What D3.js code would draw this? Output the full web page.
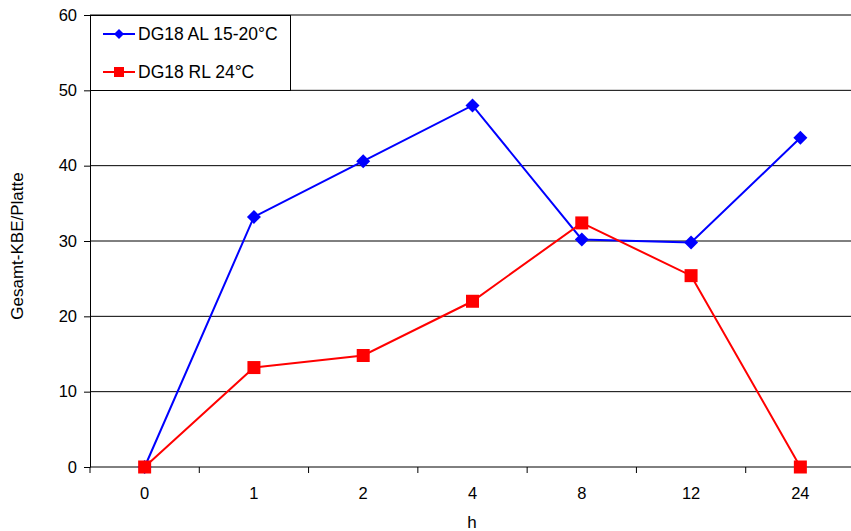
<!DOCTYPE html>
<html>
<head>
<meta charset="utf-8">
<script src="https://cdn.jsdelivr.net/npm/d3@7"></script>
<style>
  html, body { margin: 0; padding: 0; background: #fff; }
  svg { display: block; font-family: "Liberation Sans", Arial, sans-serif; }
</style>
</head>
<body>
<svg id="chart" width="851" height="531"></svg>
<script>
// Sampling times (h) and colony counts per plate
const hours = ["0", "1", "2", "4", "8", "12", "24"];
const seriesAL = [0, 33.2, 40.6, 48.0, 30.2, 29.8, 43.7];
const seriesRL = [0, 13.2, 14.8, 22.0, 32.4, 25.4, 0];
const yTicks = [0, 10, 20, 30, 40, 50, 60];
const seriesNames = ["DG18 AL 15-20°C", "DG18 RL 24°C"];

const svg = d3.select("#chart");
const plotLeft = 90, plotRight = 855, plotTop = 15, plotBottom = 467;

const x = d3.scaleBand().domain(hours).range([plotLeft, plotRight]).padding(0);
const y = d3.scaleLinear().domain([0, 60]).range([plotBottom, plotTop]);

// horizontal gridlines
svg.append("g").selectAll("line")
  .data(yTicks.filter(d => d > 0))
  .join("line")
  .attr("x1", plotLeft).attr("x2", 851)
  .attr("y1", d => y(d)).attr("y2", d => y(d))
  .attr("stroke", "#000").attr("stroke-width", 1);

// y axis
const yAxis = d3.axisLeft(y).tickValues(yTicks).tickSize(6).tickPadding(7).tickSizeOuter(0);
const gy = svg.append("g").attr("transform", `translate(${plotLeft},0)`).call(yAxis);
gy.select(".domain").attr("stroke", "#000");
gy.selectAll(".tick line").attr("stroke", "#000");
gy.selectAll(".tick text").attr("font-size", 16.5).attr("fill", "#000")
  .attr("font-family", "Liberation Sans, Arial, sans-serif");

// x axis with ticks on the category boundaries
const gx = svg.append("g").attr("transform", `translate(0,${plotBottom})`);
gx.append("line").attr("x1", plotLeft).attr("x2", 851).attr("y1", 0).attr("y2", 0).attr("stroke", "#000");
gx.selectAll("line.tk")
  .data(hours.map(h => x(h)).concat([plotRight]))
  .join("line").attr("class", "tk")
  .attr("x1", d => d).attr("x2", d => d).attr("y1", 0).attr("y2", 6)
  .attr("stroke", "#000");
gx.selectAll("text")
  .data(hours)
  .join("text")
  .attr("x", d => x(d) + x.bandwidth() / 2)
  .attr("y", 32)
  .attr("text-anchor", "middle")
  .attr("font-size", 16.5)
  .text(d => d);

// axis titles
svg.append("text")
  .attr("x", 472).attr("y", 528)
  .attr("text-anchor", "middle").attr("font-size", 17)
  .text("h");
svg.append("text")
  .attr("transform", "translate(23,246) rotate(-90)")
  .attr("text-anchor", "middle").attr("font-size", 17)
  .text("Gesamt-KBE/Platte");

const cx = d => x(d) + x.bandwidth() / 2;
const line = d3.line().x((d, i) => cx(hours[i])).y(d => y(d));

// series lines
svg.append("path").datum(seriesAL).attr("d", line)
  .attr("fill", "none").attr("stroke", "#0000ff").attr("stroke-width", 2);
svg.append("path").datum(seriesRL).attr("d", line)
  .attr("fill", "none").attr("stroke", "#ff0000").attr("stroke-width", 2);

// markers
const diamond = s => `M0,${-s}L${s},0L0,${s}L${-s},0Z`;
svg.append("g").selectAll("path")
  .data(seriesAL).join("path")
  .attr("transform", (d, i) => `translate(${cx(hours[i])},${y(d)})`)
  .attr("d", diamond(7))
  .attr("fill", "#0000ff");
svg.append("g").selectAll("rect")
  .data(seriesRL).join("rect")
  .attr("x", (d, i) => cx(hours[i]) - 6.5)
  .attr("y", d => y(d) - 6.5)
  .attr("width", 13).attr("height", 13)
  .attr("fill", "#ff0000");

// legend
const lg = svg.append("g");
lg.append("rect").attr("x", 90.5).attr("y", 15.5).attr("width", 200).attr("height", 75)
  .attr("fill", "#fff").attr("stroke", "#000").attr("stroke-width", 1);
const rows = [
  { name: seriesNames[0], color: "#0000ff", y: 34, shape: "d" },
  { name: seriesNames[1], color: "#ff0000", y: 72, shape: "s" }
];
rows.forEach(r => {
  lg.append("line").attr("x1", 103).attr("x2", 135).attr("y1", r.y).attr("y2", r.y)
    .attr("stroke", r.color).attr("stroke-width", 2);
  if (r.shape === "d") {
    lg.append("path").attr("transform", `translate(119,${r.y})`).attr("d", diamond(5)).attr("fill", r.color);
  } else {
    lg.append("rect").attr("x", 114).attr("y", r.y - 5).attr("width", 10).attr("height", 10).attr("fill", r.color);
  }
  lg.append("text").attr("x", 138).attr("y", r.y + 6).attr("font-size", 17.5).text(r.name);
});
</script>
</body>
</html>
